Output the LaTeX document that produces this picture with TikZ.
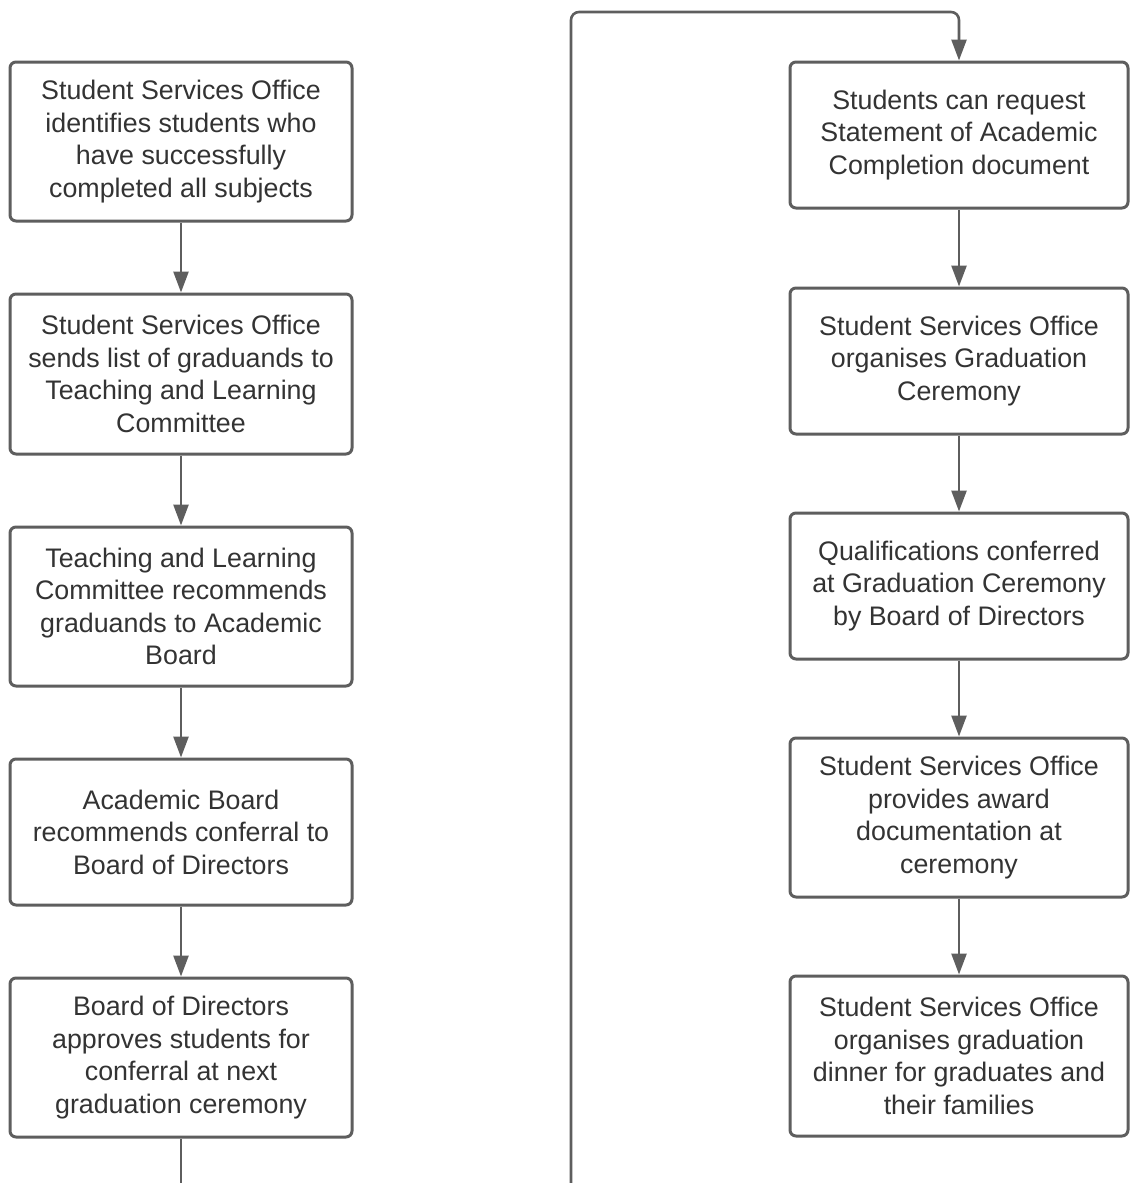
\documentclass[tikz,border=0pt]{standalone}
\usepackage{fontspec}
\setmainfont{Liberation Sans}
\usetikzlibrary{arrows.meta}
\definecolor{linec}{HTML}{5E5E5E}
\definecolor{textc}{HTML}{333333}
\tikzset{
  x=1pt,y=-1pt,
  stepbox/.style={draw=linec, line width=3pt, rounded corners=6pt, fill=white,
    align=center, text=textc, font=\fontsize{26.8}{32.5}\selectfont,
    inner sep=0pt, anchor=center},
  conn/.style={draw=linec, line width=2.6pt, -{Triangle[width=15pt,length=21pt]}},
  plain/.style={draw=linec, line width=2.6pt},
}
\begin{document}
\begin{tikzpicture}
\useasboundingbox (0,0) rectangle (1130,1183);
% left column
\node[stepbox, minimum width=342pt, minimum height=159pt] (l1) at (181,141.5)
  {Student Services Office\\identifies students who\\have successfully\\completed all subjects};
\node[stepbox, minimum width=342pt, minimum height=160pt] (l2) at (181,374)
  {Student Services Office\\sends list of graduands to\\Teaching and Learning\\Committee};
\node[stepbox, minimum width=342pt, minimum height=159pt] (l3) at (181,606.5)
  {Teaching and Learning\\Committee recommends\\graduands to Academic\\Board};
\node[stepbox, minimum width=342pt, minimum height=146pt] (l4) at (181,832)
  {Academic Board\\recommends conferral to\\Board of Directors};
\node[stepbox, minimum width=342pt, minimum height=159pt] (l5) at (181,1057.5)
  {Board of Directors\\approves students for\\conferral at next\\graduation ceremony};
% right column
\node[stepbox, minimum width=338pt, minimum height=146pt] (r1) at (959,135)
  {Students can request\\Statement of Academic\\Completion document};
\node[stepbox, minimum width=338pt, minimum height=146pt] (r2) at (959,361)
  {Student Services Office\\organises Graduation\\Ceremony};
\node[stepbox, minimum width=338pt, minimum height=146pt] (r3) at (959,586)
  {Qualifications conferred\\at Graduation Ceremony\\by Board of Directors};
\node[stepbox, minimum width=338pt, minimum height=159pt] (r4) at (959,817.5)
  {Student Services Office\\provides award\\documentation at\\ceremony};
\node[stepbox, minimum width=338pt, minimum height=160pt] (r5) at (959,1056)
  {Student Services Office\\organises graduation\\dinner for graduates and\\their families};
% connectors
\draw[conn] (l1) -- (l2);
\draw[conn] (l2) -- (l3);
\draw[conn] (l3) -- (l4);
\draw[conn] (l4) -- (l5);
\draw[conn] (r1) -- (r2);
\draw[conn] (r2) -- (r3);
\draw[conn] (r3) -- (r4);
\draw[conn] (r4) -- (r5);
\coordinate (lb) at (181,1185);
\coordinate (mb) at (571,1185);
\draw[plain] (l5) -- (lb);
\draw[conn, rounded corners=8pt] (mb) |- (r1.north |- 0,12) -- (r1);
\end{tikzpicture}
\end{document}
